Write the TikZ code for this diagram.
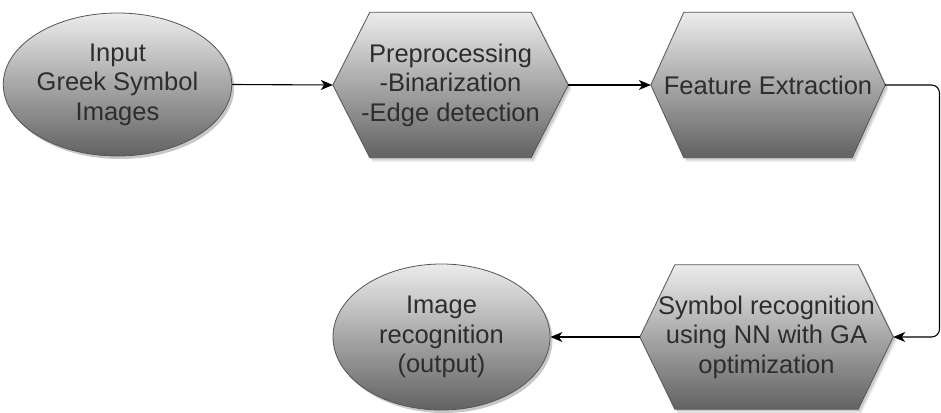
\documentclass[tikz,border=0pt]{standalone}
\usepackage{fontspec}
\setmainfont{Liberation Sans}
\usetikzlibrary{arrows.meta,calc,shapes.geometric,shadows}
\pgfdeclarelayer{bg}
\pgfdeclarelayer{paper}
\pgfsetlayers{paper,bg,main}
\definecolor{gtop}{RGB}{236,236,236}
\definecolor{gmid}{RGB}{178,178,178}
\definecolor{gbot}{RGB}{98,98,98}
\definecolor{txt}{RGB}{45,45,45}
\definecolor{edgec}{RGB}{85,85,85}
\newcommand\hexdraw[2]{%
  \begin{pgfonlayer}{bg}
  \fill[black,opacity=0.10] ([shift={(3,4)}]#1.west) -- ([shift={(#2+3,4)}]#1.north west) -- ([shift={(-#2+3,4)}]#1.north east) -- ([shift={(3,4)}]#1.east) -- ([shift={(-#2+3,4)}]#1.south east) -- ([shift={(#2+3,4)}]#1.south west) -- cycle;
  \fill[black,opacity=0.12] ([shift={(2,2)}]#1.west) -- ([shift={(#2+2,2)}]#1.north west) -- ([shift={(-#2+2,2)}]#1.north east) -- ([shift={(2,2)}]#1.east) -- ([shift={(-#2+2,2)}]#1.south east) -- ([shift={(#2+2,2)}]#1.south west) -- cycle;
  \shade[top color=gtop,middle color=gmid,bottom color=gbot,draw=edgec,line width=0.8pt,line join=round]
    (#1.west) -- ([xshift=#2]#1.north west) -- ([xshift=-#2]#1.north east) -- (#1.east)
    -- ([xshift=-#2]#1.south east) -- ([xshift=#2]#1.south west) -- cycle;
  \end{pgfonlayer}}
\begin{document}
\begin{tikzpicture}[x=1pt,y=-1pt,
  lbl/.style={font=\fontsize{25.5}{29.5}\selectfont, text=txt, align=center, inner sep=0pt},
  ell/.style={ellipse, draw=edgec, line width=0.8pt, top color=gtop, middle color=gmid, bottom color=gbot,
    drop shadow={shadow xshift=2.5pt, shadow yshift=-3pt, opacity=0.22, fill=black}, lbl},
  hexbox/.style={rectangle, minimum width=#1, lbl},
  conn/.style={draw=black, line width=1.1pt, -{Stealth[length=12pt,width=10pt,inset=3.5pt]}}
]
\begin{pgfonlayer}{paper}
\fill[white] (0,0) rectangle (941,412);
\end{pgfonlayer}
\useasboundingbox (0,0) rectangle (941,412);

\node[ell, minimum width=219pt, minimum height=143pt] (e1) at (117.5,84.5) {Input\\Greek Symbol\\Images};
\node[hexbox=235pt, minimum height=145pt] (pre) at (450.5,85) {Preprocessing\\-Binarization\\-Edge detection};
\hexdraw{pre}{37}
\node[hexbox=234pt, minimum height=145pt] (feat) at (768,85) {Feature Extraction};
\hexdraw{feat}{33}
\node[hexbox=253pt, minimum height=144pt] (sym) at (766.5,337) {Symbol recognition\\using NN with GA\\optimization};
\hexdraw{sym}{35}
\node[ell, minimum width=217pt, minimum height=146pt] (e2) at (441.5,337) {Image\\recognition\\(output)};

\coordinate (c1) at (939.5,85);
\coordinate (c2) at (939.5,337);

\draw[conn] (e1.east) -- (pre.west);
\draw[conn] (pre.east) -- (feat.west);
\draw[conn, rounded corners=8pt] (feat.east) -- (c1) -- (c2) -- (sym.east);
\draw[conn] (sym.west) -- (e2.east);
\end{tikzpicture}
\end{document}
